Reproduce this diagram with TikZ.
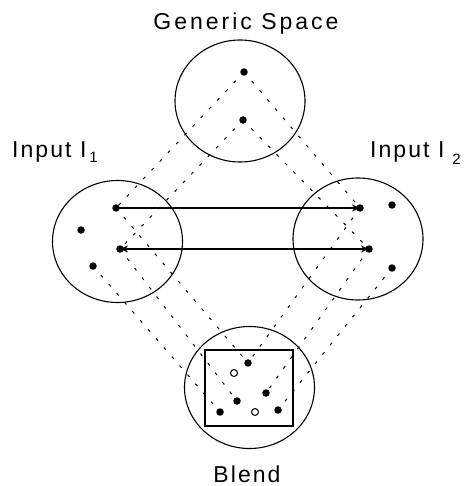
\documentclass[tikz,border=0pt]{standalone}
\usepackage{fontspec}
\setmainfont{Liberation Sans}[LetterSpace=9]
\usetikzlibrary{arrows.meta, shapes.geometric}

\tikzset{
  space/.style={draw, line width=1.1pt, ellipse, minimum width=130pt, minimum height=122pt, inner sep=0pt},
  elem/.style={circle, fill, inner sep=0pt, minimum size=7.5pt},
  hollow/.style={circle, draw, fill=white, line width=1pt, inner sep=0pt, minimum size=7pt},
  proj/.style={line width=1pt, dash pattern=on 3pt off 9pt},
  link/.style={line width=1.2pt},
  lbl/.style={inner sep=0pt, font=\fontsize{23}{26}\selectfont},
}

\begin{document}
\begin{tikzpicture}[x=1pt, y=-1pt]
\useasboundingbox (0,0) rectangle (463,486);

% the four mental spaces
\node[space] (generic) at (240,101) {};
\node[space] (in1) at (117.5,241.5) {};
\node[space] (in2) at (358,239) {};
\node[space] (blend) at (249.5,387.5) {};

% blended space frame
\draw[line width=2pt] (205,350) rectangle (293,426);

% elements of each space
\node[elem] (g1) at (244,72) {};
\node[elem] (g2) at (243,120) {};

\node[elem] (a1) at (116,208) {};
\node[elem] (a2) at (81,230) {};
\node[elem] (a3) at (120,249) {};
\node[elem] (a4) at (93,266) {};

\node[elem] (b1) at (360,208) {};
\node[elem] (b2) at (392,205) {};
\node[elem] (b3) at (369,249) {};
\node[elem] (b4) at (392,268) {};

\node[elem]   (c1) at (248,363) {};
\node[hollow] (c2) at (234,373) {};
\node[elem]   (c3) at (266,393) {};
\node[elem]   (c4) at (237,401) {};
\node[elem]   (c5) at (220,412) {};
\node[hollow] (c6) at (255,412) {};
\node[elem]   (c7) at (278,410) {};

% generic space to the inputs
\draw[proj] (g1.center) -- (a1.center);
\draw[proj] (g2.center) -- (a3.center);
\draw[proj] (g1.center) -- (b1.center);
\draw[proj] (g2.center) -- (b3.center);

% inputs to the blend
\draw[proj] (a1.center) -- (c1.center);
\draw[proj] (a3.center) -- (c4.center);
\draw[proj] (a4.center) -- (c5.center);
\draw[proj] (b1.center) -- (c1.center);
\draw[proj] (b3.center) -- (c3.center);
\draw[proj] (b4.center) -- (c7.center);

% cross-space mapping
\draw[link, -{Stealth[length=8pt, width=7pt]}] (a1.center) -- (b1.center);
\draw[link, {Stealth[length=8pt, width=7pt]}-{Stealth[length=8pt, width=7pt]}] (a3.center) -- (b3.center);

% labels
\node[lbl, anchor=base] (tg) at (246,30) {\addfontfeature{LetterSpace=13}Generic Space};
\node[lbl, anchor=base west] (t1) at (12,158) {Input I\kern3pt\raisebox{-5pt}{\fontsize{15}{15}\selectfont 1}};
\node[lbl, anchor=base east] (t2) at (461,158) {Input I\kern8pt\raisebox{-7pt}{\fontsize{15}{15}\selectfont 2}};
\node[lbl, anchor=base] (tb) at (247,482) {Blend};
\end{tikzpicture}
\end{document}
